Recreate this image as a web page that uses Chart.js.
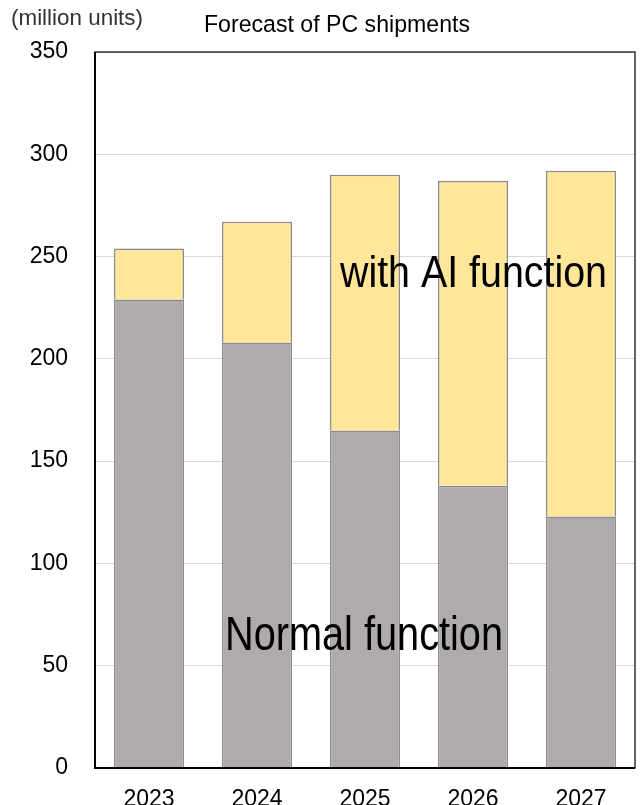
<!DOCTYPE html>
<html>
<head>
<meta charset="utf-8">
<title>Forecast of PC shipments</title>
<script src="https://cdn.jsdelivr.net/npm/chart.js@4/dist/chart.umd.min.js"></script>
<style>
  html, body { margin: 0; padding: 0; background: #ffffff; }
  #wrap { width: 640px; height: 805px; position: relative; }
</style>
</head>
<body>
<div id="wrap"><canvas id="chart" width="640" height="805"></canvas></div>
<script>
// Shipments by year, million units
const years = ['2023', '2024', '2025', '2026', '2027'];
const normalFunction = [229, 208, 165, 138, 123];
const withAIFunction = [25, 59, 125, 149, 169];
const yTicks = [0, 50, 100, 150, 200, 250, 300, 350];

const FONT = "'Liberation Sans', Arial, sans-serif";

// Draws text horizontally squeezed to a given width (condensed look)
function fitText(ctx, text, x, y, size, width) {
  ctx.save();
  ctx.font = size + 'px ' + FONT;
  const w = ctx.measureText(text).width;
  ctx.translate(x, y);
  ctx.scale(width / w, 1);
  ctx.textAlign = 'left';
  ctx.textBaseline = 'alphabetic';
  ctx.fillText(text, 0, 0);
  ctx.restore();
}

const decorations = {
  id: 'decorations',
  afterDatasetsDraw(chart) {
    const { ctx, chartArea: a } = chart;
    // plot frame: thin top/right, heavier left/bottom
    ctx.save();
    ctx.strokeStyle = '#000000';
    ctx.lineWidth = 1.2;
    ctx.strokeRect(a.left, a.top, a.right - a.left, a.bottom - a.top);
    ctx.lineWidth = 2;
    ctx.beginPath();
    ctx.moveTo(a.left, a.top);
    ctx.lineTo(a.left, a.bottom);
    ctx.lineTo(a.right, a.bottom);
    ctx.stroke();
    ctx.restore();
  },
  afterDraw(chart) {
    const { ctx } = chart;
    ctx.save();
    ctx.fillStyle = '#000000';
    // title
    fitText(ctx, 'Forecast of PC shipments', 204, 32, 24.5, 266);
    // unit label
    ctx.fillStyle = '#333333';
    fitText(ctx, '(million units)', 11, 25, 21.5, 132);
    ctx.fillStyle = '#000000';
    // series captions inside the plot
    fitText(ctx, 'with AI function', 340, 287, 45, 267);
    fitText(ctx, 'Normal function', 225, 650, 48, 278);
    ctx.restore();
  }
};

new Chart(document.getElementById('chart'), {
  type: 'bar',
  data: {
    labels: years,
    datasets: [
      {
        label: 'Normal function',
        data: normalFunction,
        backgroundColor: '#AFABAB',
        borderColor: '#8A8A8A',
        borderWidth: 1.5,
        barPercentage: 0.648,
        categoryPercentage: 1
      },
      {
        label: 'with AI function',
        data: withAIFunction,
        backgroundColor: '#FFE699',
        borderColor: '#8A8A8A',
        borderWidth: 1.5,
        barPercentage: 0.648,
        categoryPercentage: 1
      }
    ]
  },
  options: {
    responsive: false,
    animation: false,
    devicePixelRatio: 1,
    layout: { padding: { top: 52, right: 5, left: 0, bottom: 0 } },
    plugins: {
      legend: { display: false },
      tooltip: { enabled: false },
      title: { display: false }
    },
    scales: {
      x: {
        stacked: true,
        grid: { display: false, drawTicks: false },
        border: { display: false },
        ticks: {
          color: '#000000',
          font: { family: FONT, size: 23 },
          padding: 18,
          maxRotation: 0
        },
        afterFit(scale) {
          scale.height = 37;
          scale.paddingLeft = scale.paddingRight = 0;
        }
      },
      y: {
        stacked: true,
        min: 0,
        max: 350,
        afterBuildTicks(scale) { scale.ticks = yTicks.map(v => ({ value: v })); },
        grid: { color: '#D9D9D9', lineWidth: 1, drawTicks: false },
        border: { display: false },
        ticks: {
          color: '#000000',
          font: { family: FONT, size: 23 },
          padding: 27
        },
        afterFit(scale) {
          scale.width = 95;
          scale.paddingTop = scale.paddingBottom = 0;
        }
      }
    }
  },
  plugins: [decorations]
});
</script>
</body>
</html>
